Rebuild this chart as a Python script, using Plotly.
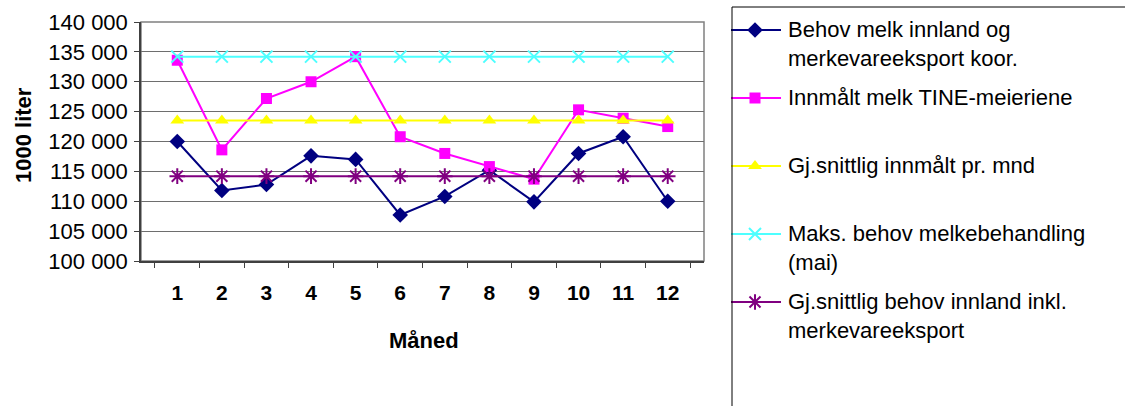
import plotly.graph_objects as go

months = ["1", "2", "3", "4", "5", "6", "7", "8", "9", "10", "11", "12"]

behov = [120000, 111800, 112800, 117600, 117000, 107700, 110800, 115200, 109900, 118000, 120800, 110000]
innmalt = [133600, 118600, 127200, 130000, 134200, 120800, 118000, 115800, 113700, 125300, 123900, 122500]
snitt_innmalt = [123500] * 12
maks_behov = [134200] * 12
snitt_behov = [114200] * 12

names = [
    "Behov melk innland og<br>merkevareeksport koor.",
    "Innmålt melk TINE-meieriene",
    "Gj.snittlig innmålt pr. mnd",
    "Maks. behov melkebehandling<br>(mai)",
    "Gj.snittlig behov innland inkl.<br>merkevareeksport",
]

y_ticks = [100000, 105000, 110000, 115000, 120000, 125000, 130000, 135000, 140000]

FONT = "Arial, 'Liberation Sans', sans-serif"

W, H = 1125, 406
# plot area in pixels
L, R, T, B = 141, 704, 22, 261
# legend layout in pixels
LEG_LEFT, LEG_TOP = 732, 7
LEG_LINE_X0, LEG_LINE_X1, LEG_MARK_X, LEG_TEXT_X = 731, 781, 755, 787
LEG_ROWS = [30, 98, 166, 234, 302]

styles = [
    dict(color="#000080", symbol="diamond", size=12, open=False),
    dict(color="#FF00FF", symbol="square", size=11, open=False),
    dict(color="#FFFF00", symbol="triangle-up", size=12, open=False),
    dict(color="#4DFFFF", symbol="x-thin-open", size=12, open=True),
    dict(color="#800080", symbol="asterisk-open", size=13, open=True),
]


def marker_for(st):
    m = dict(symbol=st["symbol"], size=st["size"], color=st["color"])
    if st["open"]:
        m["line"] = dict(color=st["color"], width=2)
    else:
        m["line"] = dict(width=0)
    return m


fig = go.Figure()

series = [behov, innmalt, snitt_innmalt, maks_behov, snitt_behov]
for vals, nm, st in zip(series, names, styles):
    fig.add_trace(go.Scatter(
        x=months, y=vals, name=nm.replace("<br>", " "), mode="lines+markers",
        line=dict(color=st["color"], width=2), marker=marker_for(st),
        xaxis="x", yaxis="y", showlegend=False,
    ))

# Legend drawn on an overlay pixel-coordinate axis
annotations = []
for nm, st, ry in zip(names, styles, LEG_ROWS):
    fig.add_trace(go.Scatter(
        x=[LEG_LINE_X0, LEG_LINE_X1], y=[ry, ry], mode="lines",
        line=dict(color=st["color"], width=2), xaxis="x2", yaxis="y2",
        showlegend=False, hoverinfo="skip",
    ))
    fig.add_trace(go.Scatter(
        x=[LEG_MARK_X], y=[ry], mode="markers", marker=marker_for(st),
        xaxis="x2", yaxis="y2", showlegend=False, hoverinfo="skip",
    ))
    annotations.append(dict(
        xref="x2", yref="y2", x=LEG_TEXT_X, y=ry - 14, xanchor="left", yanchor="top",
        text=nm, showarrow=False, align="left",
        font=dict(family=FONT, size=22, color="black"), borderpad=0,
    ))

# Axis titles
annotations.append(dict(xref="x2", yref="y2", x=424, y=340, text="<b>Måned</b>",
                        showarrow=False, xanchor="center", yanchor="middle",
                        font=dict(family=FONT, size=22, color="black")))
annotations.append(dict(xref="x2", yref="y2", x=23, y=135, text="<b>1000 liter</b>",
                        showarrow=False, xanchor="center", yanchor="middle", textangle=-90,
                        font=dict(family=FONT, size=22, color="black")))

fig.update_layout(
    width=W, height=H,
    margin=dict(l=0, r=0, t=0, b=0, pad=0, autoexpand=False),
    paper_bgcolor="white", plot_bgcolor="rgba(0,0,0,0)",
    separators=", ",
    font=dict(family=FONT, color="black", size=22),
    showlegend=False,
    xaxis=dict(
        domain=[L / W, R / W], anchor="y",
        type="category", tickson="boundaries",
        showgrid=False, showline=True, linecolor="#404040", linewidth=1.5,
        ticks="outside", ticklen=5, tickcolor="#404040", tickwidth=1,
        tickfont=dict(family=FONT, size=21, color="black", weight="bold"),
        ticklabelstandoff=12,
    ),
    yaxis=dict(
        domain=[(H - B) / H, (H - T) / H], anchor="x",
        range=[100000, 140000], tickvals=y_ticks, tickformat=",d",
        showgrid=True, gridcolor="#6e6e6e", gridwidth=1,
        showline=True, linecolor="#404040", linewidth=1.5,
        ticks="outside", ticklen=5, tickcolor="#404040",
        tickfont=dict(family=FONT, size=22, color="black"),
        ticklabelstandoff=2,
        zeroline=False,
    ),
    xaxis2=dict(domain=[0, 1], anchor="y2", range=[0, W], visible=False, fixedrange=True),
    yaxis2=dict(domain=[0, 1], anchor="x2", range=[H, 0], visible=False, fixedrange=True),
    annotations=annotations,
    shapes=[
        dict(type="rect", xref="paper", yref="paper", x0=L / W, x1=R / W,
             y0=(H - B) / H, y1=(H - T) / H,
             line=dict(color="#808080", width=1.5), fillcolor="rgba(0,0,0,0)", layer="below"),
        dict(type="rect", xref="x2", yref="y2", x0=LEG_LEFT, x1=W + 20, y0=H + 20, y1=LEG_TOP,
             line=dict(color="black", width=1), fillcolor="rgba(0,0,0,0)"),
    ],
)

fig.write_html("out.html", config={"displayModeBar": False},
               post_script="document.body.style.margin='0';")
